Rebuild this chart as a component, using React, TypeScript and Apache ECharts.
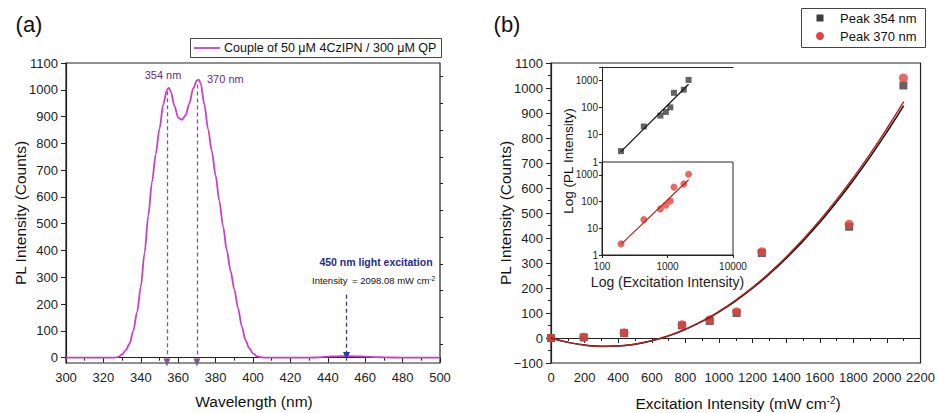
import React, { useEffect, useRef } from 'react';
import * as echarts from 'echarts';

// ---------- Panel (a): PL spectrum ----------
const wavelengths = [300, 310, 320, 326, 328, 330, 332, 334, 336, 338, 340, 342, 344, 346, 348, 350, 352, 354, 355, 356, 358, 360, 362, 364, 366, 368, 370, 371, 372, 374, 376, 378, 380, 382, 384, 386, 388, 390, 392, 394, 396, 398, 400, 402, 404, 406, 410, 420, 430, 436, 440, 445, 450, 455, 460, 466, 470, 480, 490, 500];
const plCounts = [0, 0, 0, 0, 3, 12, 28, 52, 100, 170, 265, 390, 530, 655, 760, 855, 945, 1000, 1007, 995, 940, 895, 888, 905, 950, 1005, 1035, 1038, 1025, 945, 852, 770, 680, 585, 490, 400, 325, 255, 185, 117, 65, 35, 16, 6, 2, 0, 0, 0, 0, 1, 4, 5, 6, 5, 4, 2, 1, 0, 0, 0];
const peakWavelengths = [354, 370];
const peakArrowTops = [995, 1020];
const excitationWavelength = 450;
const excitationArrowTop = 235;
const leftYTicks = [0, 100, 200, 300, 400, 500, 600, 700, 800, 900, 1000, 1100];
const leftYMinorTicks = [50, 150, 250, 350, 450, 550, 650, 750, 850, 950, 1050];

// ---------- Panel (b): intensity vs excitation ----------
const excitation = [0, 195, 435, 780, 945, 1105, 1255, 1775, 2098];
const peak354 = [0, 2.5, 20, 50, 68, 100, 340, 445, 1010];
const peak370 = [0, 2.6, 21, 53, 73, 105, 345, 455, 1040];
const fitExcitation = [0, 100, 200, 300, 400, 500, 600, 700, 800, 900, 1000, 1100, 1200, 1300, 1400, 1500, 1600, 1700, 1800, 1900, 2000, 2100];
const fit354 = [0, -17.2, -28.3, -33.2, -32, -24.6, -11.1, 8.6, 34.4, 66.4, 104.5, 148.8, 199.2, 255.8, 318.5, 387.4, 462.4, 543.6, 630.9, 724.4, 824, 929.8];
const fit370 = [0, -17.5, -28.7, -33.7, -32.4, -24.9, -11.1, 8.9, 35.2, 67.7, 106.5, 151.5, 202.8, 260.3, 324.1, 394.1, 470.4, 552.9, 641.7, 736.7, 838, 945.5];
const logFitExcitation = [195, 2100];
const logFit354 = [2.4, 700];
const logFit370 = [2.5, 650];

const FONT = 'Liberation Sans, Arial, sans-serif';
const AX = '#222';
const MAGENTA = '#c63fc6';
const SQUARE = '#3d3d3d';
const CIRCLE = '#e0443f';
const RED_FIT = '#b0241f';
const BLUE = '#1f2a90';

const pairs = (xs: number[], ys: number[]) => xs.map((x, i) => [x, ys[i]]);
const plain = (v: number) => (v < 0 ? '\u2212' + Math.abs(v) : String(v));

const tickStyle = { color: AX, fontSize: 13, fontFamily: FONT };

function isPow10(v: number) {
  const l = Math.log10(v);
  return Math.abs(l - Math.round(l)) < 1e-6;
}
const powLabel = (v: number) => (isPow10(v) ? String(Math.round(v)) : '');

export default function App() {
  const ref = useRef<HTMLDivElement>(null);
  useEffect(() => {
    document.body.style.margin = '0';
    const chart = echarts.init(ref.current!, null, { renderer: 'svg' });

    const arrowLine = (x: number, top: number, bottom: number, color: string) => [
      { coord: [x, top], lineStyle: { color, type: [4, 3], width: 1.3 } },
      { coord: [x, bottom] },
    ];

    const option: any = {
      animation: false,
      backgroundColor: '#fff',
      textStyle: { fontFamily: FONT },
      grid: [
        { left: 66, top: 63, width: 374, height: 300, show: true, borderColor: AX, borderWidth: 1.2, backgroundColor: 'transparent' },
        { left: 551, top: 63, width: 374, height: 300, show: true, borderColor: AX, borderWidth: 1.2, backgroundColor: 'transparent' },
        { left: 602, top: 67, width: 131, height: 95, show: false },
        { left: 602, top: 162, width: 131, height: 93, show: true, borderColor: AX, borderWidth: 1, backgroundColor: '#fff' },
      ],
      xAxis: [
        {
          gridIndex: 0, type: 'value', min: 300, max: 500, interval: 20,
          axisLine: { show: true, lineStyle: { color: AX, width: 1.2 } },
          axisTick: { show: true, length: 5, lineStyle: { color: AX } },
          minorTick: { show: true, splitNumber: 2, length: 3, lineStyle: { color: AX } },
          axisLabel: { ...tickStyle, margin: 8, formatter: plain },
          splitLine: { show: false },
        },
        {
          gridIndex: 1, type: 'value', min: 0, max: 2200, interval: 200,
          axisLine: { show: true, lineStyle: { color: AX, width: 1.2 } },
          axisTick: { show: true, length: 5, lineStyle: { color: AX } },
          minorTick: { show: true, splitNumber: 2, length: 3, lineStyle: { color: AX } },
          axisLabel: { ...tickStyle, margin: 8, formatter: plain },
          splitLine: { show: false },
        },
        {
          gridIndex: 2, type: 'log', logBase: 10, min: 100, max: 10000, position: 'top',
          axisLine: { show: true, lineStyle: { color: AX, width: 1 } },
          axisTick: { show: false }, axisLabel: { show: false }, splitLine: { show: false },
        },
        {
          gridIndex: 3, type: 'log', logBase: 10, min: 100, max: 10000,
          axisLine: { show: true, lineStyle: { color: AX, width: 1 } },
          axisTick: { show: true, length: 3, lineStyle: { color: AX } },
          axisLabel: { color: AX, fontSize: 10, fontFamily: FONT, margin: 6, formatter: powLabel },
          splitLine: { show: false },
          name: 'Log (Excitation Intensity)', nameLocation: 'middle', nameGap: 20,
          nameTextStyle: { color: AX, fontSize: 14, fontFamily: FONT },
        },
      ],
      yAxis: [
        {
          gridIndex: 0, type: 'value', min: -20, max: 1100,
          axisLine: { show: true, lineStyle: { color: AX, width: 1.2 } },
          axisTick: { show: true, length: 5, customValues: leftYTicks, lineStyle: { color: AX } },
          axisLabel: { ...tickStyle, margin: 8, customValues: leftYTicks, formatter: plain },
          splitLine: { show: false },
        },
        {
          gridIndex: 0, type: 'value', min: -20, max: 1100,
          axisLine: { show: false },
          axisTick: { show: true, length: 3, customValues: leftYMinorTicks, lineStyle: { color: AX } },
          axisLabel: { show: false, customValues: [] },
          splitLine: { show: false },
        },
        {
          gridIndex: 1, type: 'value', min: -100, max: 1100, interval: 100,
          axisLine: { show: true, lineStyle: { color: AX, width: 1.2 } },
          axisTick: { show: true, length: 5, lineStyle: { color: AX } },
          minorTick: { show: true, splitNumber: 2, length: 3, lineStyle: { color: AX } },
          axisLabel: { ...tickStyle, margin: 8, formatter: plain },
          splitLine: { show: false },
        },
        {
          gridIndex: 2, type: 'log', logBase: 10, min: 1, max: 3000,
          axisLine: { show: true, lineStyle: { color: AX, width: 1 } },
          axisTick: { show: true, length: 3, lineStyle: { color: AX } },
          axisLabel: { color: AX, fontSize: 10, fontFamily: FONT, margin: 4, formatter: powLabel },
          splitLine: { show: false },
        },
        {
          gridIndex: 3, type: 'log', logBase: 10, min: 1, max: 3000,
          axisLine: { show: true, lineStyle: { color: AX, width: 1 } },
          axisTick: { show: true, length: 3, lineStyle: { color: AX } },
          axisLabel: { color: AX, fontSize: 10, fontFamily: FONT, margin: 4, formatter: powLabel },
          splitLine: { show: false },
        },
      ],
      series: [
        {
          type: 'line', xAxisIndex: 0, yAxisIndex: 0, data: pairs(wavelengths, plCounts),
          showSymbol: false, smooth: 0.3, smoothMonotone: 'x',
          lineStyle: { color: MAGENTA, width: 1.8 },
          markLine: {
            silent: true, symbol: ['none', 'triangle'], symbolSize: [7, 8],
            label: { show: false },
            data: [
              arrowLine(peakWavelengths[0], peakArrowTops[0], -18, '#7d5a93'),
              arrowLine(peakWavelengths[1], peakArrowTops[1], -18, '#7d5a93'),
              arrowLine(excitationWavelength, excitationArrowTop, 6, '#2a3aa8'),
            ],
          },
        },
        {
          type: 'scatter', xAxisIndex: 1, yAxisIndex: 2, data: pairs(excitation, peak354),
          symbol: 'rect', symbolSize: 8, itemStyle: { color: SQUARE },
        },
        {
          type: 'scatter', xAxisIndex: 1, yAxisIndex: 2, data: pairs(excitation, peak370),
          symbol: 'circle', symbolSize: 9, itemStyle: { color: CIRCLE },
        },
        {
          type: 'line', xAxisIndex: 1, yAxisIndex: 2, data: pairs(fitExcitation, fit354),
          showSymbol: false, smooth: true, lineStyle: { color: '#111', width: 1.5 },
        },
        {
          type: 'line', xAxisIndex: 1, yAxisIndex: 2, data: pairs(fitExcitation, fit370),
          showSymbol: false, smooth: true, lineStyle: { color: RED_FIT, width: 1.5 },
        },
        {
          type: 'scatter', xAxisIndex: 2, yAxisIndex: 3, data: pairs(excitation.slice(1), peak354.slice(1)),
          symbol: 'rect', symbolSize: 6, itemStyle: { color: SQUARE },
        },
        {
          type: 'line', xAxisIndex: 2, yAxisIndex: 3, data: pairs(logFitExcitation, logFit354),
          showSymbol: false, lineStyle: { color: '#111', width: 1.2 },
        },
        {
          type: 'scatter', xAxisIndex: 3, yAxisIndex: 4, data: pairs(excitation.slice(1), peak370.slice(1)),
          symbol: 'circle', symbolSize: 7, itemStyle: { color: CIRCLE },
        },
        {
          type: 'line', xAxisIndex: 3, yAxisIndex: 4, data: pairs(logFitExcitation, logFit370),
          showSymbol: false, lineStyle: { color: RED_FIT, width: 1.2 },
        },
      ],
      graphic: [
        { type: 'text', x: 29, y: 24, style: { text: '(a)', font: `22px ${FONT}`, fill: '#111', textAlign: 'center', textVerticalAlign: 'middle' } },
        { type: 'text', x: 507, y: 24, style: { text: '(b)', font: `22px ${FONT}`, fill: '#111', textAlign: 'center', textVerticalAlign: 'middle' } },
        // legend (a)
        { type: 'rect', shape: { x: 190.5, y: 38.5, width: 251, height: 19 }, style: { fill: '#fff', stroke: '#444', lineWidth: 1 } },
        { type: 'line', shape: { x1: 194, y1: 48, x2: 220, y2: 48 }, style: { stroke: MAGENTA, lineWidth: 1.8 } },
        { type: 'text', x: 224, y: 48, style: { text: 'Couple of 50 \u03bcM 4CzIPN / 300 \u03bcM QP', font: `12.5px ${FONT}`, fill: '#111', textVerticalAlign: 'middle' } },
        // legend (b)
        { type: 'rect', shape: { x: 801.5, y: 8.5, width: 124, height: 39 }, style: { fill: '#fff', stroke: '#444', lineWidth: 1 } },
        { type: 'rect', shape: { x: 816.5, y: 14.5, width: 7, height: 7 }, style: { fill: SQUARE } },
        { type: 'circle', shape: { cx: 820, cy: 36, r: 4 }, style: { fill: CIRCLE } },
        { type: 'text', x: 840, y: 18, style: { text: 'Peak 354 nm', font: `13px ${FONT}`, fill: '#111', textVerticalAlign: 'middle' } },
        { type: 'text', x: 840, y: 36, style: { text: 'Peak 370 nm', font: `13px ${FONT}`, fill: '#111', textVerticalAlign: 'middle' } },
        // peak labels
        { type: 'text', x: 163, y: 75, style: { text: '354 nm', font: `11px ${FONT}`, fill: '#6a2a8a', textAlign: 'center', textVerticalAlign: 'middle' } },
        { type: 'text', x: 207, y: 79, style: { text: '370 nm', font: `11px ${FONT}`, fill: '#6a2a8a', textVerticalAlign: 'middle' } },
        // excitation annotation
        { type: 'text', x: 376, y: 262, style: { text: '450 nm light excitation', font: `bold 10.5px ${FONT}`, fill: BLUE, textAlign: 'center', textVerticalAlign: 'middle' } },
        { type: 'text', x: 312, y: 280, style: { text: 'Intensity', font: `9.5px ${FONT}`, fill: '#111', textVerticalAlign: 'middle' } },
        {
          type: 'text', x: 352, y: 280,
          style: {
            text: '= 2098.08 mW cm{sup|-2}', font: `9.5px ${FONT}`, fill: '#111', textVerticalAlign: 'middle',
            rich: { sup: { fontSize: 6.5, fontFamily: FONT, fill: '#111', verticalAlign: 'top' } },
          },
        },
        // axis titles
        { type: 'text', x: 254, y: 401, style: { text: 'Wavelength (nm)', font: `15.5px ${FONT}`, fill: '#111', textAlign: 'center', textVerticalAlign: 'middle' } },
        {
          type: 'text', x: 738, y: 403,
          style: {
            text: 'Excitation Intensity (mW cm{sup|-2})', font: `15.5px ${FONT}`, fill: '#111', textAlign: 'center', textVerticalAlign: 'middle',
            rich: { sup: { fontSize: 10, fontFamily: FONT, fill: '#111', verticalAlign: 'top' } },
          },
        },
        { type: 'text', x: 20, y: 213, rotation: Math.PI / 2, style: { text: 'PL Intensity (Counts)', font: `15.5px ${FONT}`, fill: '#111', textAlign: 'center', textVerticalAlign: 'middle' } },
        { type: 'text', x: 505, y: 213, rotation: Math.PI / 2, style: { text: 'PL Intensity (Counts)', font: `15.5px ${FONT}`, fill: '#111', textAlign: 'center', textVerticalAlign: 'middle' } },
        { type: 'text', x: 568, y: 161, rotation: Math.PI / 2, style: { text: 'Log (PL Intensity)', font: `13.5px ${FONT}`, fill: '#111', textAlign: 'center', textVerticalAlign: 'middle' } },
      ],
    };
    chart.setOption(option);
    return () => chart.dispose();
  }, []);
  return <div ref={ref} style={{ width: 938, height: 413 }} />;
}
